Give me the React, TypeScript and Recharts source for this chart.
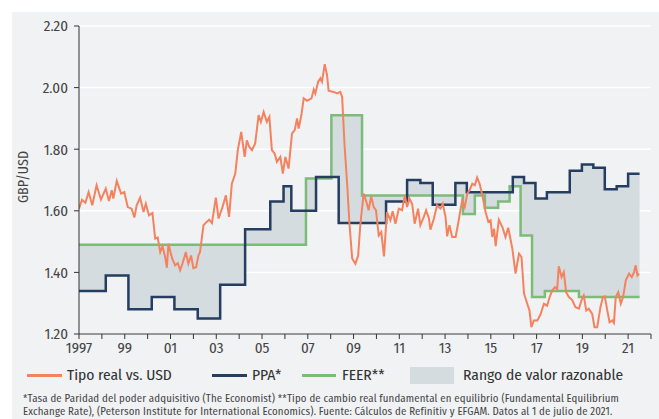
import React from "react"
import { ComposedChart, Line, Area, XAxis, YAxis, CartesianGrid } from "recharts"

// Tipo real vs. USD (year, value)
const realYears = [
  1997.0, 1997.13, 1997.28, 1997.42, 1997.58, 1997.77, 1997.96, 1998.17, 1998.31, 1998.43, 1998.5, 1998.65, 1998.84, 1998.98,
  1999.13, 1999.3, 1999.42, 1999.52, 1999.67, 1999.82, 1999.92, 2000.06, 2000.21, 2000.33, 2000.44, 2000.55, 2000.65, 2000.77,
  2000.84, 2000.91, 2001.06, 2001.2, 2001.32, 2001.42, 2001.52, 2001.67, 2001.78, 2001.9, 2002.0, 2002.12, 2002.22, 2002.29,
  2002.44, 2002.58, 2002.69, 2002.81, 2002.98, 2003.1, 2003.27, 2003.42, 2003.56, 2003.68, 2003.83, 2003.94, 2004.09, 2004.24,
  2004.34, 2004.44, 2004.56, 2004.7, 2004.85, 2004.95, 2005.07, 2005.21, 2005.32, 2005.43, 2005.55, 2005.65, 2005.8, 2005.91,
  2006.02, 2006.16, 2006.31, 2006.43, 2006.53, 2006.6, 2006.72, 2006.82, 2006.97, 2007.16, 2007.26, 2007.33, 2007.45, 2007.55,
  2007.62, 2007.74, 2007.84, 2007.91, 2008.13, 2008.28, 2008.42, 2008.5, 2008.61, 2008.72, 2008.82, 2008.94, 2009.08, 2009.2,
  2009.3, 2009.44, 2009.54, 2009.66, 2009.77, 2009.88, 2009.98, 2010.1, 2010.21, 2010.33, 2010.46, 2010.61, 2010.71, 2010.83,
  2010.98, 2011.12, 2011.24, 2011.34, 2011.44, 2011.56, 2011.67, 2011.82, 2011.92, 2012.07, 2012.17, 2012.29, 2012.36, 2012.51,
  2012.65, 2012.8, 2012.9, 2013.02, 2013.09, 2013.19, 2013.31, 2013.46, 2013.57, 2013.67, 2013.75, 2013.86, 2013.97, 2014.07,
  2014.19, 2014.3, 2014.4, 2014.51, 2014.63, 2014.77, 2014.89, 2014.99, 2015.06, 2015.14, 2015.21, 2015.35, 2015.5, 2015.64,
  2015.76, 2015.94, 2016.08, 2016.23, 2016.34, 2016.45, 2016.59, 2016.69, 2016.77, 2016.88, 2017.03, 2017.17, 2017.32, 2017.46,
  2017.57, 2017.68, 2017.8, 2017.9, 2017.97, 2018.09, 2018.19, 2018.29, 2018.41, 2018.55, 2018.7, 2018.85, 2018.96, 2019.06,
  2019.17, 2019.28, 2019.43, 2019.53, 2019.65, 2019.79, 2019.9, 2019.98, 2020.09, 2020.19, 2020.31, 2020.38, 2020.46, 2020.57,
  2020.68, 2020.78, 2020.9, 2021.04, 2021.16, 2021.26, 2021.33, 2021.41, 2021.48,
]
const realRate = [
  1.607, 1.636, 1.626, 1.661, 1.618, 1.683, 1.636, 1.672, 1.632, 1.667, 1.64, 1.697, 1.656, 1.661,
  1.612, 1.607, 1.578, 1.618, 1.643, 1.596, 1.623, 1.585, 1.593, 1.51, 1.513, 1.466, 1.485, 1.448,
  1.415, 1.493, 1.448, 1.423, 1.43, 1.407, 1.428, 1.466, 1.428, 1.455, 1.414, 1.417, 1.455, 1.466,
  1.553, 1.564, 1.571, 1.56, 1.643, 1.575, 1.612, 1.65, 1.58, 1.688, 1.721, 1.797, 1.856, 1.775,
  1.829, 1.808, 1.797, 1.819, 1.911, 1.889, 1.921, 1.889, 1.905, 1.797, 1.786, 1.759, 1.775, 1.721,
  1.775, 1.737, 1.851, 1.862, 1.9, 1.867, 1.911, 1.965, 1.957, 1.965, 1.994, 1.981, 2.019, 2.03,
  2.019, 2.076, 2.041, 1.99, 1.986, 1.981, 1.986, 1.97, 1.808, 1.688, 1.558, 1.445, 1.428, 1.455,
  1.558, 1.656, 1.634, 1.602, 1.647, 1.612, 1.602, 1.52, 1.531, 1.452, 1.596, 1.569, 1.599, 1.558,
  1.607, 1.602, 1.65, 1.612, 1.64, 1.623, 1.558, 1.607, 1.553, 1.58, 1.602, 1.577, 1.539, 1.574,
  1.618, 1.607, 1.623, 1.58, 1.517, 1.553, 1.515, 1.515, 1.558, 1.602, 1.634, 1.612, 1.656, 1.667,
  1.688, 1.683, 1.708, 1.688, 1.65, 1.596, 1.564, 1.569, 1.515, 1.542, 1.485, 1.571, 1.548, 1.515,
  1.545, 1.477, 1.396, 1.461, 1.45, 1.331, 1.298, 1.276, 1.222, 1.244, 1.244, 1.263, 1.298, 1.292,
  1.32, 1.341, 1.352, 1.346, 1.42, 1.385, 1.401, 1.336, 1.32, 1.311, 1.287, 1.282, 1.309, 1.325,
  1.276, 1.282, 1.265, 1.222, 1.222, 1.287, 1.32, 1.322, 1.276, 1.238, 1.244, 1.236, 1.32, 1.336,
  1.298, 1.32, 1.374, 1.396, 1.385, 1.401, 1.423, 1.39, 1.396,
]

// PPA* steps: year the level starts, level
const ppaStarts = [
  1997.0, 1998.17, 1999.16, 2000.18, 2001.17, 2002.19, 2003.17, 2004.26, 2005.36, 2005.94, 2006.28, 2007.36, 2008.35,
  2010.42, 2011.34, 2011.92, 2012.46, 2013.45, 2013.95, 2015.96, 2016.45, 2016.95, 2017.45, 2018.45, 2018.98, 2019.48,
  2019.98, 2020.5, 2021.0,
]
const ppaLevels = [
  1.34, 1.39, 1.28, 1.32, 1.28, 1.25, 1.36, 1.54, 1.63, 1.68, 1.6, 1.71, 1.56,
  1.63, 1.7, 1.69, 1.62, 1.69, 1.66, 1.71, 1.69, 1.64, 1.66, 1.73, 1.75, 1.74,
  1.67, 1.68, 1.72,
]

// FEER** steps
const feerStarts = [1997.0, 2006.92, 2008.03, 2009.37, 2013.78, 2014.3, 2014.74, 2015.32, 2015.82, 2016.3, 2016.8, 2017.36, 2018.85]
const feerLevels = [1.49, 1.705, 1.91, 1.65, 1.59, 1.65, 1.61, 1.63, 1.68, 1.52, 1.32, 1.34, 1.32]

const lastYear = 2021.5
const yTicks = [1.2, 1.4, 1.6, 1.8, 2.0, 2.2]
const xTicks = Array.from({ length: 26 }, (_, i) => 1997 + i)

const ORANGE = "#f5825e"
const NAVY = "#243d60"
const GREEN = "#7dbb78"
const RANGE = "#d5dce0"
const PANEL = "#f0f2f4"
const FONT = "'Fira Sans Condensed', 'Liberation Sans Narrow', 'DejaVu Sans Condensed', Roboto, sans-serif"

const levelAt = (starts: number[], levels: number[], x: number) => {
  let v = levels[0]
  starts.forEach((s, i) => {
    if (s <= x) v = levels[i]
  })
  return v
}

const stepYears = Array.from(new Set([...ppaStarts, ...feerStarts, lastYear])).sort((a, b) => a - b)
const stepData = stepYears.map((x) => {
  const ppa = levelAt(ppaStarts, ppaLevels, x)
  const feer = levelAt(feerStarts, feerLevels, x)
  return { x, ppa, feer, range: [ppa, feer] }
})
const realData = realYears.map((x, i) => ({ x, real: realRate[i] }))

const xLabel = (v: number) => {
  if (v === 1997) return "1997"
  if (v % 2 === 1) return String(v).slice(2)
  return ""
}

const legendText: React.CSSProperties = { position: "absolute", top: 366, lineHeight: "18px", fontSize: 15.5, color: "#333", whiteSpace: "nowrap" }

function Swatch({ left, width, color }: { left: number; width: number; color: string }) {
  return <div style={{ position: "absolute", left, top: 374, width, height: 2.5, background: color }} />
}

export default function App() {
  return (
    <div style={{ position: "absolute", left: 0, top: 0, width: 659, height: 419, background: "#fff", fontFamily: FONT }}>
      <div style={{ position: "absolute", left: 12, top: 12, width: 647, height: 407, background: PANEL }} />
      <div style={{ position: "absolute", left: 0, top: 0 }}>
        <ComposedChart width={659} height={360} data={stepData} margin={{ top: 26, right: 8, left: 0, bottom: 0 }}>
          <CartesianGrid vertical={false} stroke="#ffffff" strokeWidth={1.5} />
          <XAxis
            dataKey="x"
            type="number"
            domain={[1997, 2022]}
            ticks={xTicks}
            interval={0}
            tickFormatter={xLabel}
            height={26}
            tickSize={5}
            tickMargin={3}
            stroke="#333"
            tick={{ fill: "#444", fontSize: 15, fontFamily: FONT }}
            allowDataOverflow
          />
          <YAxis
            type="number"
            domain={[1.2, 2.2]}
            ticks={yTicks}
            width={79}
            tickSize={5}
            tickMargin={6}
            stroke="#333"
            tickFormatter={(v) => v.toFixed(2)}
            tick={{ fill: "#444", fontSize: 15, fontFamily: FONT }}
            label={{
              content: () => (
                <text transform="translate(28,177) rotate(-90)" textAnchor="middle" fill="#444" fontSize={14} fontFamily={FONT}>
                  GBP/USD
                </text>
              ),
            }}
          />
          <Area dataKey="range" type="stepAfter" fill={RANGE} fillOpacity={1} stroke="none" isAnimationActive={false} />
          <Line dataKey="feer" type="stepAfter" stroke={GREEN} strokeWidth={2.5} dot={false} isAnimationActive={false} />
          <Line dataKey="ppa" type="stepAfter" stroke={NAVY} strokeWidth={2.5} dot={false} isAnimationActive={false} />
          <Line data={realData} dataKey="real" type="linear" stroke={ORANGE} strokeWidth={2} dot={false} isAnimationActive={false} />
        </ComposedChart>
      </div>
      <Swatch left={27} width={35} color={ORANGE} />
      <div style={{ ...legendText, left: 67 }}>Tipo real vs. USD</div>
      <Swatch left={212} width={35} color={NAVY} />
      <div style={{ ...legendText, left: 252 }}>PPA*</div>
      <Swatch left={302} width={34} color={GREEN} />
      <div style={{ ...legendText, left: 342 }}>FEER**</div>
      <div style={{ position: "absolute", left: 410, top: 367, width: 44, height: 17, background: RANGE }} />
      <div style={{ ...legendText, left: 463 }}>Rango de valor razonable</div>
      <div style={{ position: "absolute", left: 23, top: 392, fontSize: 10.8, letterSpacing: 0.15, lineHeight: "13px", color: "#444", whiteSpace: "nowrap" }}>
        *Tasa de Paridad del poder adquisitivo (The Economist) **Tipo de cambio real fundamental en equilibrio (Fundamental Equilibrium
        <br />
        Exchange Rate), (Peterson Institute for International Economics). Fuente: Cálculos de Refinitiv y EFGAM. Datos al 1 de julio de 2021.
      </div>
    </div>
  )
}
